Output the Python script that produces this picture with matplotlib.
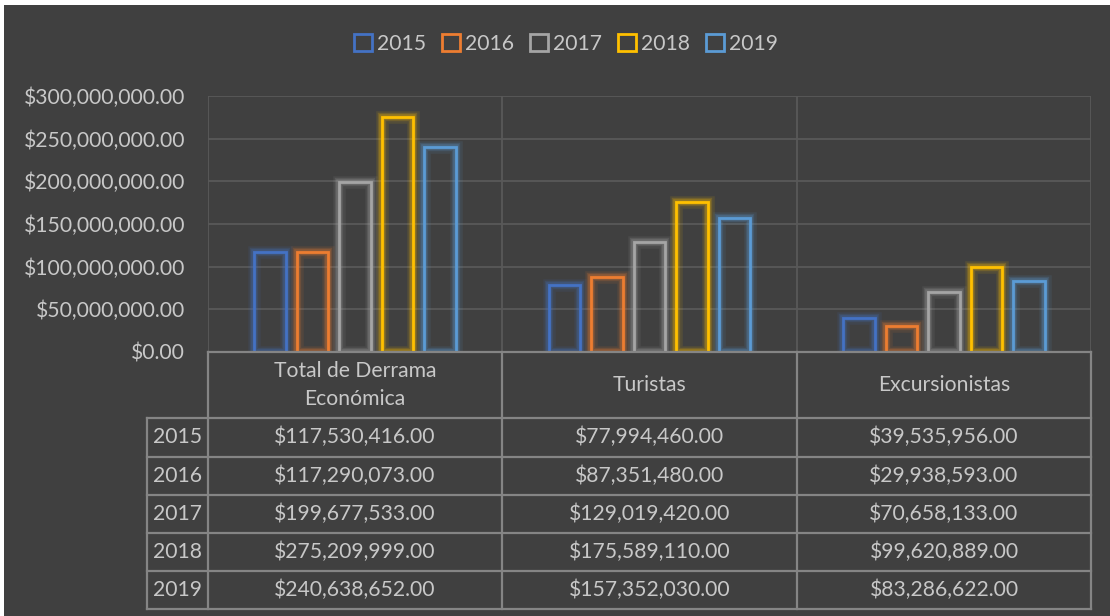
import matplotlib
matplotlib.use("Agg")
import matplotlib.pyplot as plt
from matplotlib.patches import Rectangle
from matplotlib.lines import Line2D
import numpy as np

# ---------------- data ----------------
categories = ["Total de Derrama\nEconómica", "Turistas", "Excursionistas"]
years = ["2015", "2016", "2017", "2018", "2019"]
v2015 = [117530416, 77994460, 39535956]
v2016 = [117290073, 87351480, 29938593]
v2017 = [199677533, 129019420, 70658133]
v2018 = [275209999, 175589110, 99620889]
v2019 = [240638652, 157352030, 83286622]
series = [v2015, v2016, v2017, v2018, v2019]
colors = ["#4472C4", "#ED7D31", "#A5A5A5", "#FFC000", "#5B9BD5"]
yticks = [0, 50e6, 100e6, 150e6, 200e6, 250e6, 300e6]

# ---------------- style ----------------
plt.rcParams['font.family'] = ['Lato', 'DejaVu Sans']
TXT = "#C8C8C8"
BG = "#404040"
GRID = "#595959"
TLINE = "#858585"
FS = 15.2

W, H = 1110, 616
fig = plt.figure(figsize=(W / 100, H / 100), dpi=100)
fig.patch.set_facecolor("white")


def fx(px):
    return px / W


def fy(py):
    return 1 - py / H


fig.patches.append(Rectangle((fx(4), 0), 1 - fx(4), fy(5), transform=fig.transFigure,
                             facecolor=BG, edgecolor="none", zorder=-10))

L, R, T, B = 208, 1091, 96, 352
ax = fig.add_axes([fx(L), fy(B), fx(R) - fx(L), fy(T) - fy(B)])
ax.set_facecolor("none")
ax.set_xlim(-0.5, 2.5)
ax.set_ylim(0, 300e6)
for s in ax.spines.values():
    s.set_visible(False)
ax.set_xticks([])
ax.set_yticks(yticks)
ax.set_yticklabels(["${:,.2f}".format(v) for v in yticks], color=TXT, fontsize=FS)
ax.tick_params(axis="y", length=0, pad=16.5)
for v in yticks[1:]:
    ax.axhline(v, color=GRID, lw=1.3, zorder=0)
for xb in [-0.5, 0.5, 1.5, 2.5]:
    ax.axvline(xb, color=GRID, lw=1.3, zorder=0)

x = np.arange(len(categories))
step = 0.1445
bw = 0.107
for i, (vals, c) in enumerate(zip(series, colors)):
    xs = x + (i - 2) * step
    for lw, a in [(9, 0.10), (6, 0.18), (4, 0.25)]:
        ax.bar(xs, vals, width=bw, facecolor="none", edgecolor=c, linewidth=lw, alpha=a, zorder=2)
    ax.bar(xs, vals, width=bw, facecolor="none", edgecolor=c, linewidth=2, zorder=3)

# ---------------- data table ----------------
cols = [147, 208, 502, 797, 1091]
rows = [352, 418, 456.5, 494.5, 532.5, 571, 609]


def hline(y, x0, x1):
    fig.add_artist(Line2D([fx(x0), fx(x1)], [fy(y), fy(y)], color=TLINE, lw=1.6,
                          transform=fig.transFigure, zorder=5))


def vline(xp, y0, y1):
    fig.add_artist(Line2D([fx(xp), fx(xp)], [fy(y0), fy(y1)], color=TLINE, lw=1.6,
                          transform=fig.transFigure, zorder=5))


hline(rows[0], cols[1], cols[-1])
for r in rows[1:]:
    hline(r, cols[0], cols[-1])
vline(cols[0], rows[1], rows[-1])
for c in cols[1:]:
    vline(c, rows[0], rows[-1])

for j, cat in enumerate(categories):
    cx = (cols[j + 1] + cols[j + 2]) / 2
    cy = (rows[0] + rows[1]) / 2
    fig.text(fx(cx), fy(cy), cat, ha="center", va="center", color=TXT, fontsize=FS,
             linespacing=1.5, multialignment="center")

for i, (yr, vals) in enumerate(zip(years, series)):
    cy = (rows[i + 1] + rows[i + 2]) / 2
    fig.text(fx((cols[0] + cols[1]) / 2), fy(cy), yr, ha="center", va="center",
             color=TXT, fontsize=FS)
    for j, v in enumerate(vals):
        cx = (cols[j + 1] + cols[j + 2]) / 2
        fig.text(fx(cx), fy(cy), "${:,.2f}".format(v), ha="center", va="center",
                 color=TXT, fontsize=FS)

# ---------------- legend ----------------
handles = [Rectangle((0, 0), 1, 1, facecolor="none", edgecolor=c, linewidth=2) for c in colors]
fig.legend(handles, years, loc="center", bbox_to_anchor=(fx(566), fy(44)), ncol=5,
           frameon=False, handlelength=0.85, handleheight=0.85, handletextpad=0.25,
           columnspacing=0.75, fontsize=FS, labelcolor=TXT)

fig.savefig("out.png", dpi=100, facecolor=fig.get_facecolor())
